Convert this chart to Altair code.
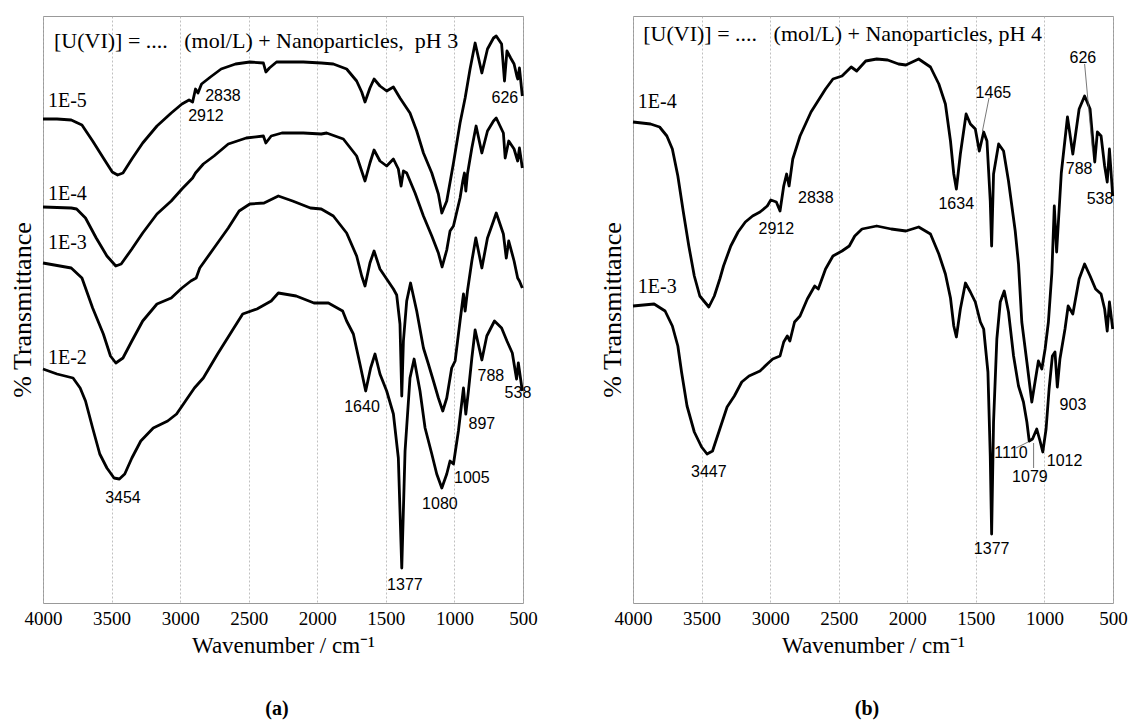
import altair as alt
import pandas as pd

# ---------------- Panel (a): pH 3 ----------------
a_1e5_wn = [4000, 3898, 3794, 3716, 3638, 3560, 3495, 3456, 3417, 3352, 3273, 3169, 3065, 2987, 2935, 2909, 2888, 2870, 2844, 2779, 2701, 2596, 2492, 2393, 2375, 2349, 2297, 2102, 1971, 1883, 1786, 1713, 1676, 1652, 1616, 1586, 1543, 1494, 1445, 1397, 1324, 1275, 1226, 1165, 1117, 1092, 1056, 1007, 959, 922, 886, 849, 800, 759, 715, 695, 656, 635, 617, 590, 565, 545, 538, 526, 505]
a_1e5_t = [484, 484, 483, 478, 462, 445, 431, 428, 430, 444, 460, 477, 490, 499, 503, 501, 514, 510, 519, 526, 534, 539, 541, 540, 531, 535, 541, 541, 540, 539, 534, 522, 511, 501, 515, 524, 517, 512, 516, 505, 490, 472, 450, 430, 409, 390, 402, 440, 480, 505, 534, 560, 530, 554, 565, 567, 559, 522, 552, 545, 539, 527, 524, 535, 507]

a_1e4_wn = [4000, 3794, 3755, 3690, 3612, 3534, 3469, 3430, 3352, 3273, 3169, 3065, 2987, 2909, 2888, 2831, 2753, 2649, 2518, 2393, 2375, 2336, 2258, 2102, 1971, 1932, 1810, 1713, 1652, 1616, 1586, 1543, 1494, 1445, 1409, 1389, 1372, 1348, 1287, 1226, 1165, 1117, 1090, 1056, 1032, 1007, 959, 939, 927, 917, 905, 873, 842, 800, 759, 715, 695, 643, 630, 604, 565, 539, 526, 505]
a_1e4_t = [396, 395, 394, 385, 365, 347, 337, 339, 354, 370, 389, 402, 414, 425, 430, 439, 447, 459, 465, 467, 460, 467, 470, 470, 469, 470, 464, 447, 422, 440, 453, 442, 437, 444, 434, 417, 432, 430, 410, 387, 367, 350, 336, 353, 372, 377, 405, 422, 430, 412, 429, 455, 477, 450, 472, 482, 485, 470, 445, 462, 454, 442, 455, 435]

a_1e3_wn = [4000, 3794, 3716, 3638, 3560, 3508, 3469, 3417, 3352, 3273, 3169, 3065, 2987, 2922, 2883, 2857, 2753, 2649, 2570, 2492, 2388, 2284, 2180, 2050, 1971, 1883, 1786, 1713, 1676, 1652, 1616, 1586, 1543, 1494, 1445, 1421, 1397, 1384, 1372, 1348, 1320, 1275, 1226, 1190, 1153, 1117, 1085, 1056, 1020, 995, 959, 934, 922, 905, 873, 844, 800, 759, 715, 695, 643, 622, 604, 565, 539, 526, 505]
a_1e3_t = [340, 335, 325, 295, 269, 247, 240, 245, 262, 282, 299, 305, 315, 322, 325, 335, 355, 375, 392, 399, 400, 407, 402, 395, 394, 387, 370, 347, 327, 317, 340, 352, 334, 324, 314, 308, 279, 207, 262, 302, 320, 292, 255, 239, 222, 205, 192, 205, 235, 242, 282, 309, 292, 312, 342, 365, 335, 365, 382, 390, 369, 345, 362, 342, 325, 322, 315]

a_1e2_wn = [4000, 3898, 3781, 3729, 3690, 3638, 3586, 3534, 3482, 3443, 3404, 3352, 3287, 3196, 3091, 3026, 2961, 2896, 2831, 2727, 2622, 2544, 2440, 2336, 2284, 2154, 2024, 1919, 1815, 1786, 1737, 1689, 1647, 1611, 1579, 1543, 1494, 1445, 1409, 1384, 1360, 1324, 1294, 1251, 1214, 1165, 1129, 1092, 1056, 1032, 1007, 971, 934, 917, 898, 873, 849, 800, 764, 708, 656, 617, 578, 547, 534, 505]
a_1e2_t = [234, 229, 225, 215, 202, 175, 149, 135, 125, 124, 129, 145, 162, 175, 182, 189, 202, 215, 225, 249, 272, 289, 294, 302, 310, 307, 300, 300, 292, 282, 269, 239, 212, 235, 249, 229, 212, 189, 145, 35, 152, 225, 244, 212, 175, 149, 129, 115, 129, 142, 139, 172, 215, 189, 212, 245, 273, 243, 267, 282, 275, 262, 250, 224, 240, 212]

a_curve_names = ["1E-5", "1E-4", "1E-3", "1E-2"]
a_curve_label_wn = [3964, 3964, 3964, 3964]
a_curve_label_t = [502, 409, 360, 245]

a_peak_labels = ["2838", "2912", "626", "3454", "1640", "1377", "1080", "1005", "897", "788", "538"]
a_peak_wn = [2688, 2812, 632, 3417, 1674, 1361, 1106, 873, 800, 734, 537]
a_peak_t = [507, 487, 505, 105, 196, 18, 99, 125, 179, 227, 210]

a_title = "[U(VI)] = ....\u00a0\u00a0\u00a0(mol/L) + Nanoparticles,\u00a0\u00a0pH 3"
a_title_wn, a_title_t = 3920, 562

# ---------------- Panel (b): pH 4 ----------------
b_1e4_wn = [4000, 3872, 3806, 3753, 3713, 3673, 3633, 3593, 3553, 3513, 3447, 3407, 3367, 3340, 3287, 3234, 3181, 3128, 3074, 3021, 2995, 2955, 2928, 2901, 2880, 2862, 2835, 2782, 2702, 2596, 2542, 2476, 2409, 2369, 2303, 2223, 2143, 2064, 2010, 1917, 1831, 1770, 1722, 1685, 1661, 1642, 1613, 1571, 1540, 1504, 1475, 1443, 1419, 1395, 1385, 1371, 1334, 1298, 1262, 1213, 1189, 1165, 1128, 1092, 1044, 1019, 995, 971, 946, 928, 911, 877, 832, 793, 747, 707, 667, 633, 614, 587, 561, 542, 526, 502]
b_1e4_t = [481, 479, 476, 467, 454, 427, 391, 357, 327, 307, 296, 307, 324, 337, 357, 371, 381, 387, 391, 397, 403, 401, 392, 417, 429, 417, 444, 467, 491, 514, 524, 527, 536, 532, 542, 544, 543, 539, 538, 544, 536, 519, 499, 462, 429, 414, 449, 489, 479, 474, 452, 471, 462, 402, 357, 429, 459, 452, 422, 372, 339, 281, 241, 201, 242, 234, 254, 281, 330, 397, 351, 430, 486, 449, 494, 507, 494, 441, 471, 467, 437, 421, 454, 407]

b_1e3_wn = [4000, 3846, 3766, 3713, 3673, 3646, 3606, 3553, 3500, 3460, 3420, 3367, 3314, 3261, 3207, 3154, 3074, 3021, 2981, 2928, 2901, 2875, 2856, 2822, 2782, 2729, 2675, 2649, 2596, 2542, 2476, 2423, 2383, 2330, 2223, 2117, 2010, 1917, 1831, 1770, 1722, 1685, 1661, 1642, 1613, 1576, 1540, 1504, 1467, 1443, 1412, 1395, 1385, 1371, 1347, 1322, 1293, 1262, 1225, 1189, 1153, 1128, 1111, 1087, 1056, 1032, 1012, 988, 966, 942, 923, 906, 887, 850, 827, 793, 747, 707, 667, 627, 587, 561, 542, 526, 502]
b_1e3_t = [297, 299, 292, 277, 257, 231, 197, 171, 156, 149, 152, 174, 196, 207, 221, 227, 232, 239, 244, 247, 261, 267, 262, 281, 287, 304, 317, 314, 334, 347, 352, 357, 367, 374, 377, 374, 372, 376, 369, 349, 329, 305, 277, 266, 294, 320, 311, 301, 281, 274, 231, 147, 69, 181, 264, 301, 312, 291, 247, 217, 201, 181, 162, 164, 174, 162, 151, 174, 214, 247, 251, 216, 244, 274, 297, 289, 324, 339, 327, 314, 309, 294, 272, 301, 274]

b_curve_names = ["1E-4", "1E-3"]
b_curve_label_wn = [3965, 3965]
b_curve_label_t = [501, 316]

b_peak_labels = ["626", "1465", "788", "538", "2838", "2912", "1634", "3447", "903", "1110", "1079", "1012", "1377"]
b_peak_wn = [720, 1372, 747, 595, 2667, 2955, 1643, 3447, 792, 1244, 1106, 853, 1385]
b_peak_t = [545, 510, 434, 404, 405, 374, 399, 131, 198, 150, 126, 142, 54]

# leader lines (b): start wn, end wn, start t, end t
b_lead_wn1 = [707, 1404, 1207, 1079]
b_lead_wn2 = [649, 1452, 1119, 1079]
b_lead_t1 = [539, 505, 155, 135]
b_lead_t2 = [452, 472, 161, 160]

b_title = "[U(VI)] = ....\u00a0\u00a0\u00a0(mol/L) + Nanoparticles, pH 4"
b_title_wn, b_title_t = 3925, 569

x_ticks = [4000, 3500, 3000, 2500, 2000, 1500, 1000, 500]

SERIF = "Liberation Serif"
SANS = "Liberation Sans"
W, H = 480, 587


def spectra_df(series):
    rows = []
    for name, wn, t in series:
        for i, (w, v) in enumerate(zip(wn, t)):
            rows.append({"series": name, "wn": w, "t": v, "i": i})
    return pd.DataFrame(rows)


def panel(series, cl_names, cl_wn, cl_t, pk_lab, pk_wn, pk_t, title_text, title_wn, title_t,
          tag, leaders=None):
    xs = alt.Scale(domain=[500, 4000], reverse=True, nice=False, zero=False)
    ys = alt.Scale(domain=[0, 587], nice=False, zero=False)
    xaxis = alt.Axis(values=x_ticks, format="d", grid=True, gridDash=[2, 2], gridColor="#b0b0b0",
                     gridWidth=0.8, ticks=False, domain=False, labelFont=SERIF, labelFontSize=19,
                     labelColor="black", labelPadding=6, labelFlush=False,
                     title="Wavenumber / cm\u207b\u00b9", titleFont=SERIF, titleFontSize=23,
                     titleFontWeight="normal", titleColor="black", titlePadding=6)
    yaxis = alt.Axis(labels=False, ticks=False, domain=False, grid=False, title="% Transmittance",
                     titleFont=SERIF, titleFontSize=26, titleFontWeight="normal", titleColor="black",
                     titlePadding=8)
    df = spectra_df(series)
    lines = alt.Chart(df).mark_line(color="black", strokeWidth=2.8, strokeJoin="round").encode(
        x=alt.X("wn:Q", scale=xs, axis=xaxis),
        y=alt.Y("t:Q", scale=ys, axis=yaxis),
        detail="series:N",
        order="i:Q",
    )
    cl = pd.DataFrame({"lab": cl_names, "wn": cl_wn, "t": cl_t})
    clab = alt.Chart(cl).mark_text(font=SERIF, fontSize=20, align="left", baseline="middle",
                                   color="black").encode(
        x=alt.X("wn:Q", scale=xs), y=alt.Y("t:Q", scale=ys), text="lab:N")
    pk = pd.DataFrame({"lab": pk_lab, "wn": pk_wn, "t": pk_t})
    plab = alt.Chart(pk).mark_text(font=SANS, fontSize=16, align="center", baseline="middle",
                                   color="black").encode(
        x=alt.X("wn:Q", scale=xs), y=alt.Y("t:Q", scale=ys), text="lab:N")
    tt = pd.DataFrame({"lab": [title_text], "wn": [title_wn], "t": [title_t]})
    tlab = alt.Chart(tt).mark_text(font=SERIF, fontSize=22, align="left", baseline="middle",
                                   color="black").encode(
        x=alt.X("wn:Q", scale=xs), y=alt.Y("t:Q", scale=ys), text="lab:N")
    layers = [lines, clab, plab, tlab]
    if leaders is not None:
        ld = pd.DataFrame({"x1": leaders[0], "x2": leaders[1], "y1": leaders[2], "y2": leaders[3]})
        lr = alt.Chart(ld).mark_rule(color="#555555", strokeWidth=0.8).encode(
            x=alt.X("x1:Q", scale=xs), x2="x2:Q", y=alt.Y("y1:Q", scale=ys), y2="y2:Q")
        layers.append(lr)
    return alt.layer(*layers).properties(
        width=W, height=H,
        title=alt.TitleParams(tag, orient="bottom", font=SERIF, fontSize=20, fontWeight="bold",
                              color="black", offset=42, dx=-6))


pa = panel([("1E-5", a_1e5_wn, a_1e5_t), ("1E-4", a_1e4_wn, a_1e4_t),
            ("1E-3", a_1e3_wn, a_1e3_t), ("1E-2", a_1e2_wn, a_1e2_t)],
           a_curve_names, a_curve_label_wn, a_curve_label_t,
           a_peak_labels, a_peak_wn, a_peak_t, a_title, a_title_wn, a_title_t, "(a)")
pb = panel([("1E-4", b_1e4_wn, b_1e4_t), ("1E-3", b_1e3_wn, b_1e3_t)],
           b_curve_names, b_curve_label_wn, b_curve_label_t,
           b_peak_labels, b_peak_wn, b_peak_t, b_title, b_title_wn, b_title_t, "(b)",
           leaders=(b_lead_wn1, b_lead_wn2, b_lead_t1, b_lead_t2))

chart = alt.hconcat(pa, pb, spacing=60).properties(
    padding={"left": 8, "top": 15, "right": 5, "bottom": 5},
    background="white",
).configure_view(stroke="#999999", strokeWidth=1)

chart.save("out.html", embed_options={"renderer": "svg", "actions": False})
